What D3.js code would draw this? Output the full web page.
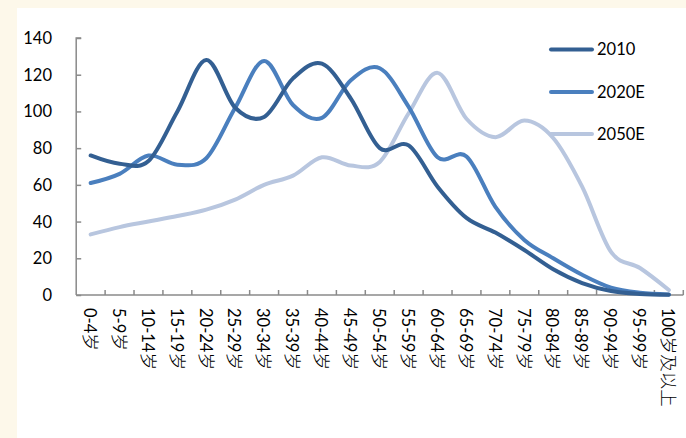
<!DOCTYPE html>
<html>
<head>
<meta charset="utf-8">
<script src="https://cdn.jsdelivr.net/npm/d3@7"></script>
<style>
  html, body { margin: 0; padding: 0; background: #fdf8ea; }
  svg { display: block; }
  text { font-family: Lato, "Open Sans", sans-serif; fill: #000; }
</style>
</head>
<body>
<svg id="chart" width="686" height="438"></svg>
<script>
// Age groups (x categories)
const categories = ["0-4岁","5-9岁","10-14岁","15-19岁","20-24岁","25-29岁","30-34岁","35-39岁","40-44岁","45-49岁","50-54岁","55-59岁","60-64岁","65-69岁","70-74岁","75-79岁","80-84岁","85-89岁","90-94岁","95-99岁","100岁及以上"];

// Population by age group for each series
const series2010  = [76, 71.5, 73, 100, 128, 102, 97, 118, 126, 107, 80, 81.5, 59, 42, 34, 24.5, 14, 6.5, 2.2, 0.6, 0.1];
const series2020E = [61, 66, 76, 71, 74.5, 102, 127.5, 103.5, 96.5, 117, 123.5, 102.5, 75, 75.5, 48, 30, 20, 11, 4, 1.2, 0.3];
const series2050E = [33, 37, 40, 43, 46.5, 52, 60, 65, 75, 70.5, 72.5, 99, 121, 96, 86, 95, 85.5, 59, 23.5, 14.7, 2.7];

const seriesNames = ["2010", "2020E", "2050E"];
const yTicks = [0, 20, 40, 60, 80, 100, 120, 140];

const colors = ["#335f92", "#4a7fbe", "#b8c6df"];

const svg = d3.select("#chart");

// white panel
svg.append("rect").attr("x", 17).attr("y", 8).attr("width", 686 - 17).attr("height", 438 - 8).attr("fill", "#ffffff");

const x = d3.scaleBand().domain(categories).range([76.2, 683.3]).padding(0);
const y = d3.scaleLinear().domain([0, 140]).range([295, 38]);

const axisColor = "#8a8a8a";

// y axis
const yAxis = svg.append("g").attr("transform", `translate(${x.range()[0]},0)`)
  .call(d3.axisRight(y).tickValues(yTicks).tickSize(5).tickFormat(""));
yAxis.select(".domain").attr("stroke", axisColor).attr("stroke-width", 1.5).attr("d", `M5,${y(140)}H0V${y(0)}`);
yAxis.selectAll(".tick line").attr("stroke", axisColor).attr("stroke-width", 1.5);

svg.append("g").selectAll("text").data(yTicks).join("text")
  .attr("x", 52).attr("y", d => y(d)).attr("dy", "0.36em")
  .attr("text-anchor", "end").attr("font-size", 16.5).text(d => d);

// x axis: tick marks between categories, pointing up
const xAxisG = svg.append("g");
xAxisG.append("line").attr("x1", x.range()[0]).attr("x2", x.range()[1])
  .attr("y1", y(0)).attr("y2", y(0)).attr("stroke", axisColor).attr("stroke-width", 1.5);
xAxisG.selectAll("line.tk").data(categories).join("line").attr("class", "tk")
  .attr("x1", d => x(d) + x.bandwidth()).attr("x2", d => x(d) + x.bandwidth())
  .attr("y1", y(0)).attr("y2", y(0) - 5).attr("stroke", axisColor).attr("stroke-width", 1.5);

// rotated category labels
const labels = svg.append("g").selectAll("text").data(categories).join("text")
  .attr("transform", d => `translate(${x(d) + x.bandwidth() / 2 - 1},308) rotate(90)`)
  .attr("dy", "0.35em").attr("font-size", 16.5);
labels.each(function(d) {
  const t = d3.select(this);
  const m = d.match(/^([0-9\-]+)(.*)$/);
  t.append("tspan").text(m[1]);
  t.append("tspan").attr("font-family", "'Noto Sans CJK SC', sans-serif").attr("font-size", 17.5).attr("font-weight", 300).text(m[2]);
});

// smoothed lines
const line = d3.line()
  .x((d, i) => x(categories[i]) + x.bandwidth() / 2)
  .y(d => y(d))
  .curve(d3.curveCatmullRom.alpha(0));

const data = [series2010, series2020E, series2050E];
// draw lightest first so darker series sit on top
[2, 1, 0].forEach(k => {
  svg.append("path").datum(data[k]).attr("d", line)
    .attr("fill", "none").attr("stroke", colors[k]).attr("stroke-width", 4)
    .attr("stroke-linecap", "round").attr("stroke-linejoin", "round");
});

// legend
const legendY = [49.5, 92, 134];
const lg = svg.append("g");
seriesNames.forEach((name, k) => {
  lg.append("line").attr("x1", 551).attr("x2", 592).attr("y1", legendY[k]).attr("y2", legendY[k])
    .attr("stroke", colors[k]).attr("stroke-width", 4).attr("stroke-linecap", "round");
  lg.append("text").attr("x", 597).attr("y", legendY[k]).attr("dy", "0.36em")
    .attr("font-size", 16.5).text(name);
});
</script>
</body>
</html>
